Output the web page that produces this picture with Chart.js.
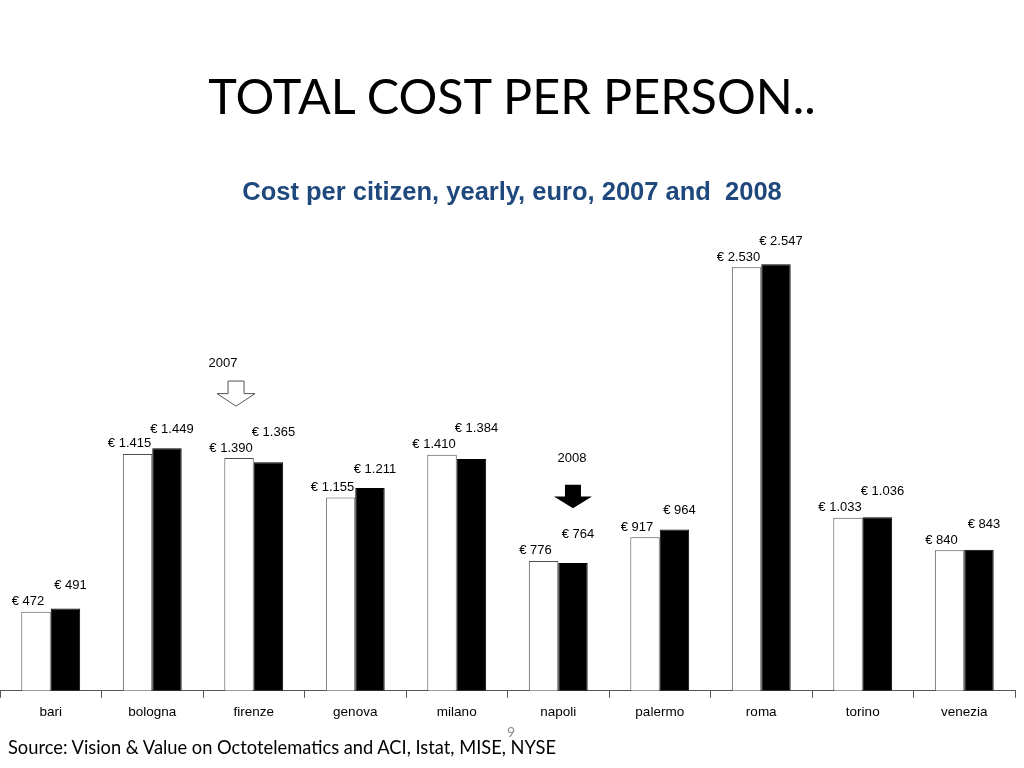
<!DOCTYPE html>
<html>
<head>
<meta charset="utf-8">
<script src="https://cdn.jsdelivr.net/npm/chart.js@4"></script>
<style>
	html, body { margin: 0; padding: 0; background: #fff; }
	#page { position: relative; width: 1024px; height: 768px; overflow: hidden; }
	#title { position: absolute; left: 0; width: 1024px; top: 66px; text-align: center;
		font-family: Lato, "Open Sans", sans-serif; font-size: 48.5px; color: #000; white-space: nowrap; }
	#subtitle { position: absolute; left: 0; width: 1024px; top: 177px; text-align: center;
		font-family: "Liberation Sans", Arial, sans-serif; font-weight: bold; font-size: 25.5px; color: #1f497d; white-space: pre; }
	#source { position: absolute; left: 8px; top: 736px; font-family: Lato, sans-serif; font-size: 18.3px; color: #000; white-space: nowrap; }
	#pagenum { position: absolute; left: 507px; top: 723px; font-family: Lato, sans-serif; font-size: 14px; color: #8c8c8c; }
	#wrap { position: absolute; left: 0; top: 0; width: 1024px; height: 768px; }
</style>
</head>
<body>
<div id="page">
	<div id="wrap"><canvas id="costChart"></canvas></div>
	<div id="title">TOTAL COST PER PERSON..</div>
	<div id="subtitle">Cost per citizen, yearly, euro, 2007 and  2008</div>
	<div id="pagenum">9</div>
	<div id="source">Source: Vision &amp; Value on Octotelematics and ACI, Istat, MISE, NYSE</div>
</div>
<script>
// Cost per citizen, euro
const cities = ["bari", "bologna", "firenze", "genova", "milano", "napoli", "palermo", "roma", "torino", "venezia"];
const cost2007 = [472, 1415, 1390, 1155, 1410, 776, 917, 2530, 1033, 840];
const cost2008 = [491, 1449, 1365, 1211, 1384, 764, 964, 2547, 1036, 843];
const seriesNames = ["2007", "2008"];

function euro(v) {
	return "€ " + String(v).replace(/\B(?=(\d{3})+(?!\d))/g, ".");
}

// value labels: 2007 a bit to the left, 2008 higher and to the right
const valueLabels = {
	id: "valueLabels",
	afterDatasetsDraw(chart) {
		const ctx = chart.ctx;
		ctx.save();
		ctx.font = "13px 'Liberation Sans', Arial, sans-serif";
		ctx.fillStyle = "#000";
		ctx.textAlign = "center";
		ctx.textBaseline = "middle";
		const m0 = chart.getDatasetMeta(0).data;
		const m1 = chart.getDatasetMeta(1).data;
		m0.forEach(function (bar0, j) {
			const bar1 = m1[j];
			const y0 = bar0.y - 10;
			let y1 = bar1.y - 19;
			// keep the 2008 label clear of the 2007 one
			if (Math.abs(y1 - y0) < 14) {
				y1 = y0 - 16;
			}
			ctx.fillText(euro(cost2007[j]), bar0.x - 8, y0);
			ctx.fillText(euro(cost2008[j]), bar1.x + 5, y1);
		});
		ctx.restore();
	},
};

// "2007" / "2008" pointers
const yearArrows = {
	id: "yearArrows",
	afterDatasetsDraw(chart) {
		const ctx = chart.ctx;
		const y = chart.scales.y;
		function arrow(cx, top, tip, filled, label, textVal) {
			const shaftBottom = top + (tip - top) * 0.5;
			ctx.beginPath();
			ctx.moveTo(cx - 8, top);
			ctx.lineTo(cx + 8, top);
			ctx.lineTo(cx + 8, shaftBottom);
			ctx.lineTo(cx + 19, shaftBottom);
			ctx.lineTo(cx, tip);
			ctx.lineTo(cx - 19, shaftBottom);
			ctx.lineTo(cx - 8, shaftBottom);
			ctx.closePath();
			if (filled) {
				ctx.fillStyle = "#000";
				ctx.fill();
			} else {
				ctx.fillStyle = "#fff";
				ctx.fill();
				ctx.strokeStyle = "#555";
				ctx.lineWidth = 1;
				ctx.stroke();
			}
			ctx.fillStyle = "#000";
			ctx.font = "13px 'Liberation Sans', Arial, sans-serif";
			ctx.textAlign = "center";
			ctx.textBaseline = "middle";
			ctx.fillText(label, cx - (filled ? 1 : 13), y.getPixelForValue(textVal));
		}
		ctx.save();
		const b07 = chart.getDatasetMeta(0).data[2];
		const b08 = chart.getDatasetMeta(1).data[5];
		arrow(b07.x - 3, y.getPixelForValue(1850), y.getPixelForValue(1700), false, seriesNames[0], 1955);
		arrow(b08.x, y.getPixelForValue(1230), y.getPixelForValue(1090), true, seriesNames[1], 1387);
		ctx.restore();
	},
};

document.addEventListener("DOMContentLoaded", function () {
	const ctx = document.getElementById("costChart");
	new Chart(ctx.getContext("2d"), {
		type: "bar",
		data: {
			labels: cities,
			datasets: [
				{
					label: seriesNames[0],
					data: cost2007,
					backgroundColor: "#ffffff",
					borderColor: "#4d4d4d",
					borderWidth: 1,
				},
				{
					label: seriesNames[1],
					data: cost2008,
					backgroundColor: "#000000",
					borderColor: "#000000",
					borderWidth: 1,
				},
			],
		},
		options: {
			responsive: true,
			maintainAspectRatio: false,
			animation: false,
			events: [],
			categoryPercentage: 0.58,
			barPercentage: 1.0,
			plugins: {
				legend: { display: false },
				tooltip: { enabled: false },
			},
			scales: {
				x: {
					grid: {
						offset: true,
						drawOnChartArea: false,
						drawTicks: true,
						tickLength: 7,
						color: "#555",
					},
					border: { color: "#555", width: 1 },
					ticks: {
						color: "#000",
						padding: 6,
						font: { family: "'Liberation Sans', Arial, sans-serif", size: 13.5 },
						maxRotation: 0,
						minRotation: 0,
					},
				},
				y: {
					display: false,
					min: 0,
					max: 2800,
				},
			},
			layout: {
				padding: {
					top: 222,
					bottom: 42,
					left: 0,
					right: 9,
				},
			},
		},
		plugins: [valueLabels, yearArrows],
	});
});
</script>
</body>
</html>
